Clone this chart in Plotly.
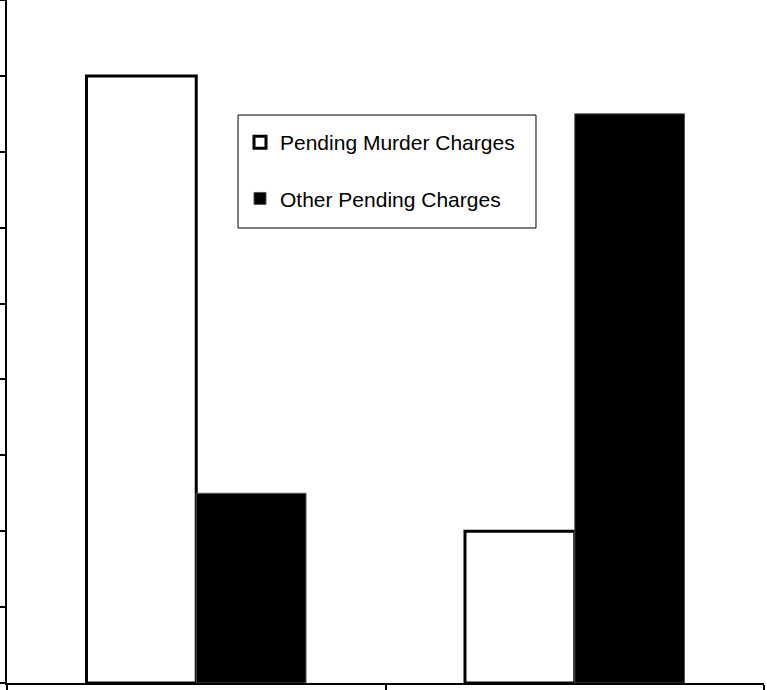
import plotly.graph_objects as go

categories = ["Group A", "Group B"]
murder_pending = [80, 20]
other_pending = [25, 75]
series_names = ["Pending Murder Charges", "Other Pending Charges"]

fig = go.Figure()
fig.add_trace(go.Bar(
    x=categories, y=murder_pending, name=series_names[0],
    marker=dict(color="white", line=dict(color="black", width=3)),
    legendgroup="a",
))
fig.add_trace(go.Bar(
    x=categories, y=other_pending, name=series_names[1],
    marker=dict(color="black", line=dict(color="#555555", width=1)),
    legendgroup="b",
))

# legend frame (style only)
fig.add_shape(
    type="rect", xref="paper", yref="paper",
    x0=0.3052, x1=0.6988, y0=0.6662, y1=0.8316,
    line=dict(color="black", width=1), fillcolor="white", layer="above",
)

fig.update_layout(
    width=767, height=690,
    margin=dict(l=7, r=3, t=0, b=7),
    paper_bgcolor="white", plot_bgcolor="white",
    barmode="group", bargap=0.42, bargroupgap=0,
    font=dict(family="Liberation Sans, Arial, sans-serif", color="black"),
    showlegend=True,
    legend=dict(
        x=0.3078, y=0.8214, xanchor="left", yanchor="top",
        bgcolor="rgba(0,0,0,0)", borderwidth=0,
        font=dict(size=21, color="black"),
        traceorder="grouped", tracegroupgap=26,
        itemwidth=30,
    ),
)
fig.update_xaxes(
    range=[-0.5, 1.5], showticklabels=False, ticks="outside", ticklen=7,
    tickwidth=2, tickcolor="black", tickson="boundaries", automargin=False,
    showline=True, linecolor="black", linewidth=2, showgrid=False, zeroline=False,
)
fig.update_yaxes(
    range=[0, 90], dtick=10, showticklabels=False, ticks="outside", ticklen=7,
    tickwidth=2, tickcolor="black", automargin=False,
    showline=True, linecolor="black", linewidth=2, showgrid=False, zeroline=False,
)

fig.write_html(
    "out.html",
    config={"displayModeBar": False},
    post_script="document.body.style.margin='0';",
)
